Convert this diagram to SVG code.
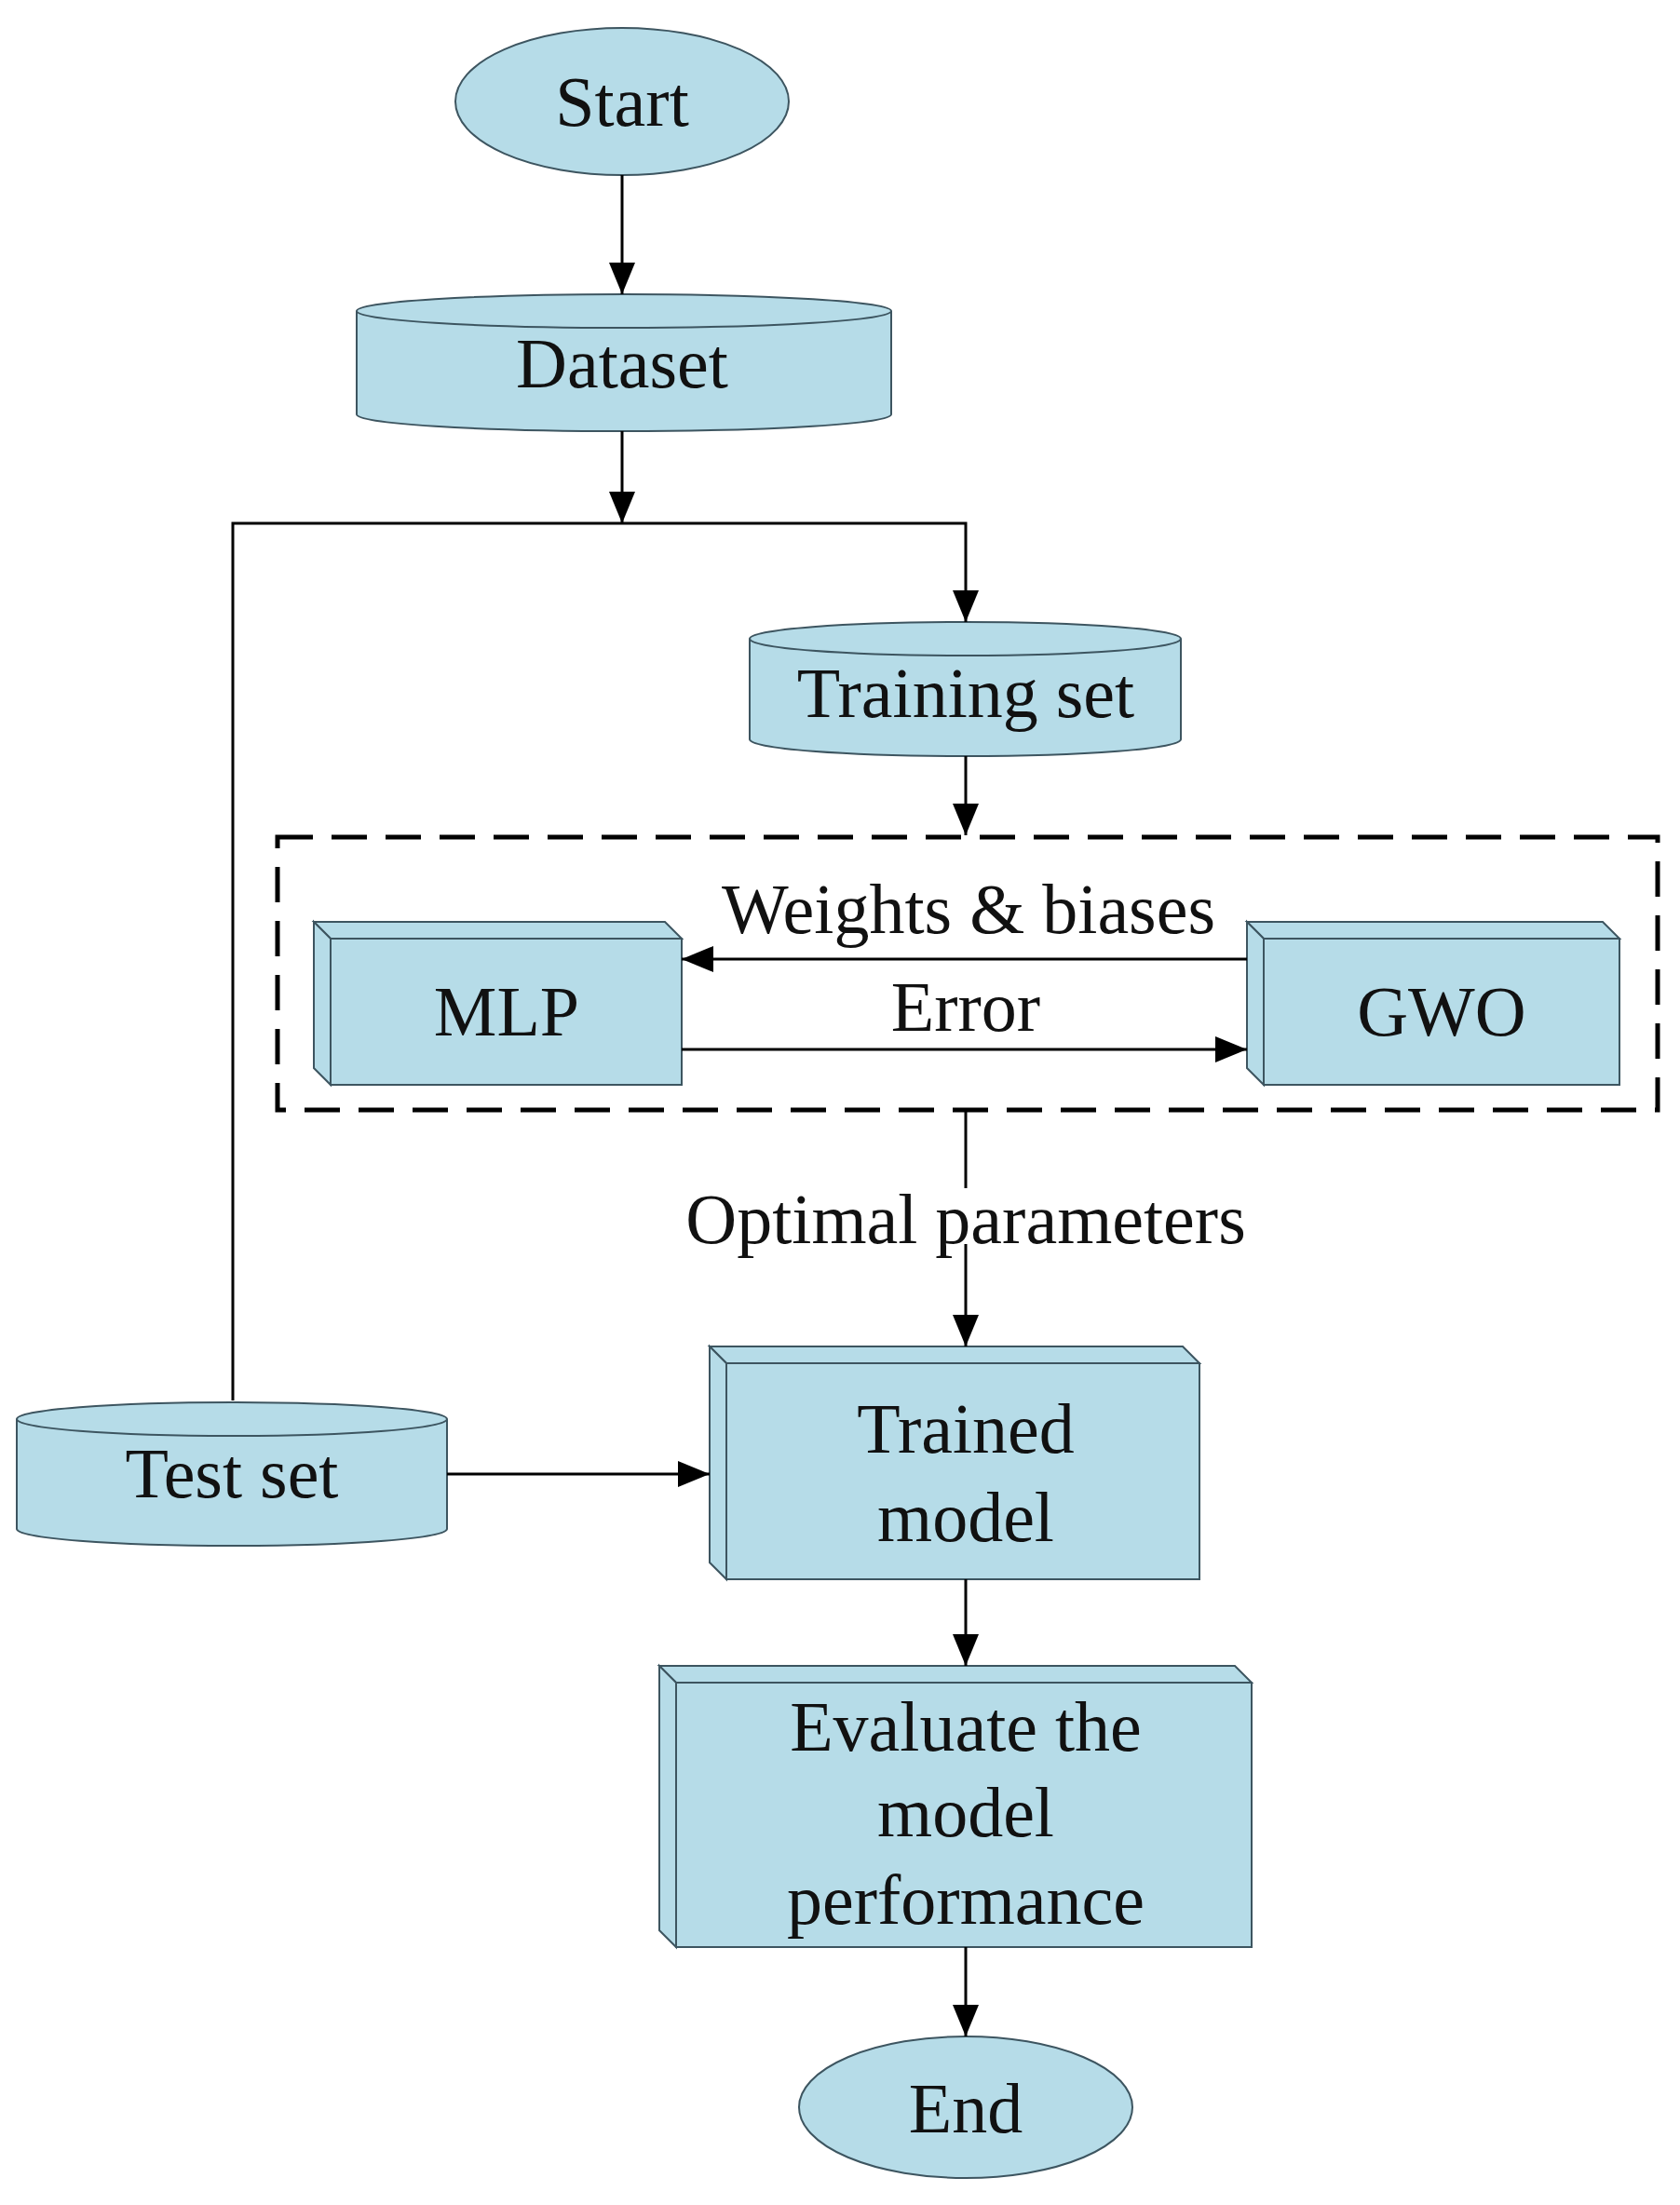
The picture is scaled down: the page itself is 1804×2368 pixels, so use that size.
<svg xmlns="http://www.w3.org/2000/svg" width="1804" height="2368" viewBox="0 0 1804 2368">
<style>
.n{fill:#b6dce8;stroke:#3d5560;stroke-width:2}
.t{font-family:"Liberation Serif",serif;font-size:76px;fill:#111;text-anchor:middle}
.c{stroke:#000;stroke-width:3;fill:none}
</style>
<defs>
<marker id="a" markerWidth="12" markerHeight="12" refX="11" refY="6" orient="auto" markerUnits="userSpaceOnUse" viewBox="0 0 12 12">
<path d="M0,0 L12,6 L0,12 z" fill="#000" transform="scale(1)"/>
</marker>
<marker id="b" markerWidth="36" markerHeight="36" refX="34" refY="14" orient="auto" markerUnits="userSpaceOnUse">
<path d="M0,0 L34,14 L0,28 z" fill="#000"/>
</marker>
</defs>
<rect width="1804" height="2368" fill="#fff"/>
<g id="start"><ellipse class="n" cx="668" cy="109" rx="179" ry="79"/><text class="t" x="668" y="135">Start</text></g>
<g id="dataset"><path class="n" d="M383,334 A287,18 0 0 1 957,334 L957,445 A287,18 0 0 1 383,445 Z"/><path class="n" d="M383,334 A287,18 0 0 0 957,334"/><text class="t" x="668" y="416">Dataset</text></g>
<g id="training"><path class="n" d="M805,686 A231,18 0 0 1 1268,686 L1268,794 A231,18 0 0 1 805,794 Z"/><path class="n" d="M805,686 A231,18 0 0 0 1268,686"/><text class="t" x="1037" y="770">Training set</text></g>
<g id="loop"><rect x="298" y="899" width="1482" height="293" fill="none" stroke="#000" stroke-width="5" stroke-dasharray="38,20"/></g>
<g id="mlp"><path class="n" d="M337,990 L714,990 L732,1008 L355,1008 Z"/><path class="n" d="M337,990 L355,1008 L355,1165 L337,1147 Z"/><rect class="n" x="355" y="1008" width="377" height="157"/><text class="t" x="544" y="1112">MLP</text></g>
<g id="gwo"><path class="n" d="M1339,990 L1721,990 L1739,1008 L1357,1008 Z"/><path class="n" d="M1339,990 L1357,1008 L1357,1165 L1339,1147 Z"/><rect class="n" x="1357" y="1008" width="382" height="157"/><text class="t" x="1548" y="1112">GWO</text></g>
<g id="testset"><path class="n" d="M18,1524 A231,18 0 0 1 480,1524 L480,1642 A231,18 0 0 1 18,1642 Z"/><path class="n" d="M18,1524 A231,18 0 0 0 480,1524"/><text class="t" x="249" y="1608">Test set</text></g>
<g id="trained"><path class="n" d="M762,1446 L1270,1446 L1288,1464 L780,1464 Z"/><path class="n" d="M762,1446 L780,1464 L780,1696 L762,1678 Z"/><rect class="n" x="780" y="1464" width="508" height="232"/><text class="t" x="1037" y="1560">Trained</text><text class="t" x="1037" y="1655">model</text></g>
<g id="evaluate"><path class="n" d="M708,1789 L1326,1789 L1344,1807 L726,1807 Z"/><path class="n" d="M708,1789 L726,1807 L726,2091 L708,2073 Z"/><rect class="n" x="726" y="1807" width="618" height="284"/><text class="t" x="1037" y="1880">Evaluate the</text><text class="t" x="1037" y="1972">model</text><text class="t" x="1037" y="2066">performance</text></g>
<g id="end"><ellipse class="n" cx="1037" cy="2263" rx="179" ry="76"/><text class="t" x="1037" y="2290">End</text></g>
<g id="connectors">
<line class="c" x1="668" y1="188" x2="668" y2="316" marker-end="url(#b)"/>
<line class="c" x1="668" y1="463" x2="668" y2="562" marker-end="url(#b)"/>
<polyline class="c" points="250,1504 250,562 1037,562 1037,668" marker-end="url(#b)"/>
<line class="c" x1="1037" y1="812" x2="1037" y2="897" marker-end="url(#b)"/>
<line class="c" x1="1339" y1="1030" x2="732" y2="1030" marker-end="url(#b)"/>
<line class="c" x1="732" y1="1127" x2="1339" y2="1127" marker-end="url(#b)"/>
<line class="c" x1="1037" y1="1192" x2="1037" y2="1276" stroke-width="2"/>
<line class="c" x1="1037" y1="1336" x2="1037" y2="1446" marker-end="url(#b)"/>
<line class="c" x1="480" y1="1583" x2="762" y2="1583" marker-end="url(#b)"/>
<line class="c" x1="1037" y1="1696" x2="1037" y2="1789" marker-end="url(#b)"/>
<line class="c" x1="1037" y1="2091" x2="1037" y2="2187" marker-end="url(#b)"/>
</g>
<text class="t" x="1040" y="1002">Weights &amp; biases</text>
<text class="t" x="1037" y="1107">Error</text>
<text class="t" x="1037" y="1335">Optimal parameters</text>
</svg>
